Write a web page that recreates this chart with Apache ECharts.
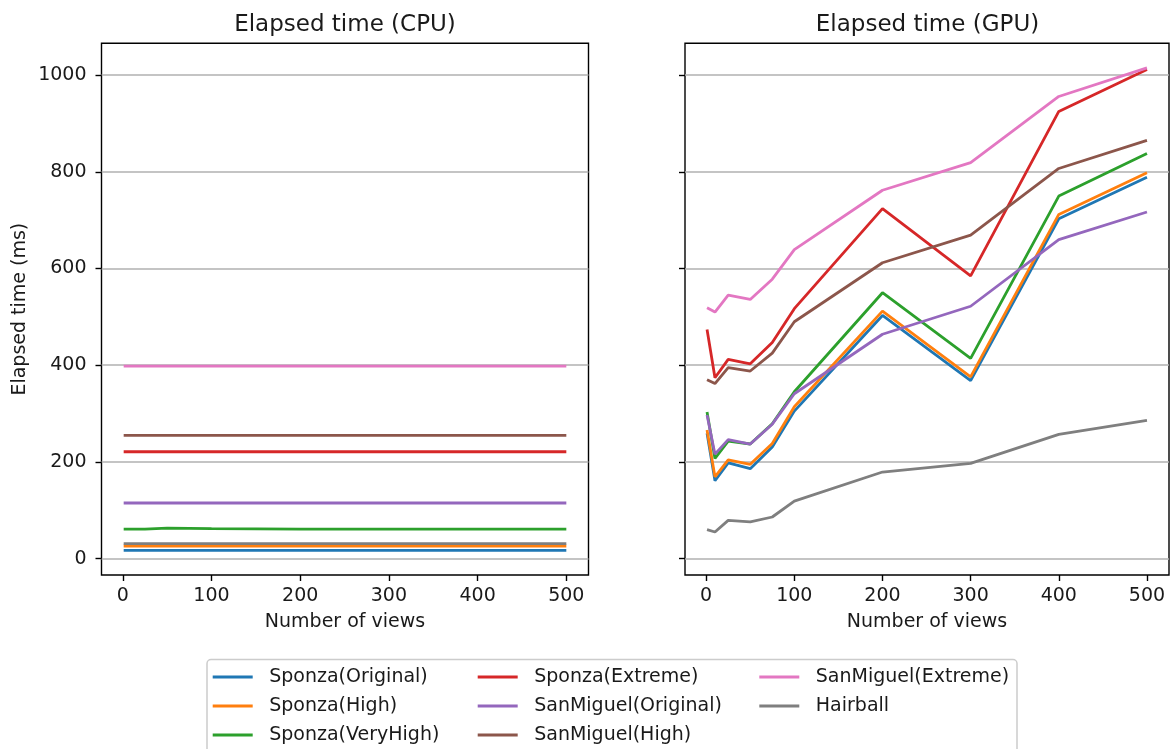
<!DOCTYPE html>
<html>
<head>
<meta charset="utf-8">
<script src="https://cdn.jsdelivr.net/npm/echarts@6/dist/echarts.min.js"></script>
<style>
html,body{margin:0;padding:0;background:#fff;}
#chart{width:1170px;height:749px;}
</style>
</head>
<body>
<div id="chart"></div>
<script>
// ---- data ----
const views = [1, 10, 25, 50, 75, 100, 200, 300, 400, 500];
const seriesNames = ['Sponza(Original)', 'Sponza(High)', 'Sponza(VeryHigh)', 'Sponza(Extreme)',
  'SanMiguel(Original)', 'SanMiguel(High)', 'SanMiguel(Extreme)', 'Hairball'];
const yTicks = [0, 200, 400, 600, 800, 1000];
const xTicks = [0, 100, 200, 300, 400, 500];

// CPU elapsed time (ms)
const cpuSponzaOriginal   = [17, 17, 17, 17, 17, 17, 17, 17, 17, 17];
const cpuSponzaHigh       = [26, 26, 26, 26, 26, 26, 26, 26, 26, 26];
const cpuSponzaVeryHigh   = [61, 61, 61, 63, 62.5, 62, 61, 61, 61, 61];
const cpuSponzaExtreme    = [221, 221, 221, 221, 221, 221, 221, 221, 221, 221];
const cpuSanMiguelOrig    = [115, 115, 115, 115, 115, 115, 115, 115, 115, 115];
const cpuSanMiguelHigh    = [255, 255, 255, 255, 255, 255, 255, 255, 255, 255];
const cpuSanMiguelExtreme = [398, 398, 398, 398, 398, 398, 398, 398, 398, 398];
const cpuHairball         = [31, 31, 31, 31, 31, 31, 31, 31, 31, 31];

// GPU elapsed time (ms)
const gpuSponzaOriginal   = [259, 161, 198, 186, 231, 305, 503, 368, 703, 789];
const gpuSponzaHigh       = [266, 169, 204, 195, 238, 314, 512, 376, 712, 798];
const gpuSponzaVeryHigh   = [303, 207, 243, 237, 279, 345, 550, 414, 750, 838];
const gpuSponzaExtreme    = [474, 374, 412, 403, 447, 517, 724, 585, 925, 1012];
const gpuSanMiguelOrig    = [297, 216, 246, 237, 278, 341, 464, 522, 660, 717];
const gpuSanMiguelHigh    = [370, 362, 395, 388, 425, 490, 612, 669, 807, 865];
const gpuSanMiguelExtreme = [519, 510, 545, 536, 578, 639, 762, 819, 956, 1015];
const gpuHairball         = [60, 55, 79, 76, 86, 119, 179, 197, 257, 286];

const cpuData = [cpuSponzaOriginal, cpuSponzaHigh, cpuSponzaVeryHigh, cpuSponzaExtreme,
  cpuSanMiguelOrig, cpuSanMiguelHigh, cpuSanMiguelExtreme, cpuHairball];
const gpuData = [gpuSponzaOriginal, gpuSponzaHigh, gpuSponzaVeryHigh, gpuSponzaExtreme,
  gpuSanMiguelOrig, gpuSanMiguelHigh, gpuSanMiguelExtreme, gpuHairball];

const palette = ['#1f77b4', '#ff7f0e', '#2ca02c', '#d62728', '#9467bd', '#8c564b', '#e377c2', '#7f7f7f'];

// ---- chart ----
const FONT = 'DejaVu Sans';
const TXT = '#1a1a1a';
const chart = echarts.init(document.getElementById('chart'), null, {renderer: 'canvas'});

function makeX(gridIndex) {
  return {
    type: 'value', gridIndex, min: -24, max: 525,
    name: 'Number of views', nameLocation: 'middle', nameGap: 38,
    nameTextStyle: {fontFamily: FONT, fontSize: 19, color: TXT},
    axisLine: {show: false, onZero: false},
    axisTick: {show: true, length: 6, inside: false, lineStyle: {color: '#000', width: 1.4}, customValues: xTicks},
    axisLabel: {fontFamily: FONT, fontSize: 19, color: TXT, margin: 12, customValues: xTicks,
      formatter: v => String(v)},
    splitLine: {show: false}
  };
}
function makeY(gridIndex, showLabels) {
  return {
    type: 'value', gridIndex, min: -34, max: 1066,
    name: showLabels ? 'Elapsed time (ms)' : '', nameLocation: 'middle', nameGap: 72,
    nameTextStyle: {fontFamily: FONT, fontSize: 19, color: TXT},
    axisLine: {show: false, onZero: false},
    axisTick: {show: true, length: 6, inside: false, lineStyle: {color: '#000', width: 1.4}, customValues: yTicks},
    axisLabel: {show: showLabels, fontFamily: FONT, fontSize: 19, color: TXT, margin: 15, customValues: yTicks,
      formatter: v => String(v)},
    splitLine: {show: true, lineStyle: {color: '#b0b0b0', width: 1.5}}
  };
}

const series = [];
[cpuData, gpuData].forEach((set, gi) => {
  set.forEach((vals, i) => {
    series.push({
      name: seriesNames[i], type: 'line', xAxisIndex: gi, yAxisIndex: gi,
      data: views.map((v, k) => [v, vals[k]]),
      symbol: 'none', showSymbol: false, smooth: false,
      color: palette[i],
      lineStyle: {width: 2.8, color: palette[i]},
      emphasis: {disabled: true},
      animation: false
    });
  });
});

function legendBlock(names, left) {
  return {
    orient: 'vertical', left: left, top: 667.5, padding: 0,
    itemGap: 10, itemWidth: 41, itemHeight: 3,
    icon: 'path://M0,0H40V3H0Z',
    selectedMode: false,
    textStyle: {fontFamily: FONT, fontSize: 19, color: TXT, lineHeight: 19, padding: [0, 0, 0, 11]},
    data: names
  };
}

const option = {
  backgroundColor: '#fff',
  animation: false,
  grid: [
    {left: 101.5, top: 43.3, width: 487, height: 531.7, show: true, borderColor: '#000', borderWidth: 1.4, containLabel: false},
    {left: 685, top: 43.3, width: 484, height: 531.7, show: true, borderColor: '#000', borderWidth: 1.4, containLabel: false}
  ],
  xAxis: [makeX(0), makeX(1)],
  yAxis: [makeY(0, true), makeY(1, false)],
  legend: [
    legendBlock(seriesNames.slice(0, 3), 212.7),
    legendBlock(seriesNames.slice(3, 6), 477.7),
    legendBlock(seriesNames.slice(6, 8), 759.3)
  ],
  graphic: [
    {type: 'text', style: {x: 345, y: 25, text: 'Elapsed time (CPU)', textAlign: 'center', textVerticalAlign: 'middle', font: '23px "DejaVu Sans"', fill: TXT}},
    {type: 'text', style: {x: 927.5, y: 25, text: 'Elapsed time (GPU)', textAlign: 'center', textVerticalAlign: 'middle', font: '23px "DejaVu Sans"', fill: TXT}},
    {type: 'rect', z: -1, shape: {x: 207, y: 659.5, width: 810, height: 110, r: 4}, style: {fill: 'rgba(255,255,255,0.8)', stroke: '#cccccc', lineWidth: 1.5}}
  ],
  series: series
};
chart.setOption(option);
</script>
</body>
</html>
